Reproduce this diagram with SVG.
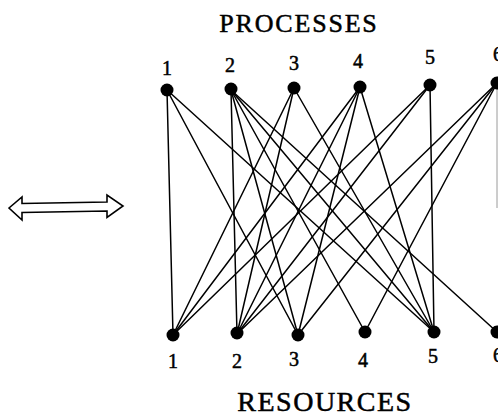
<svg xmlns="http://www.w3.org/2000/svg" width="498" height="419" viewBox="0 0 498 419">
<style>
  .bg { fill: #ffffff; }
  .dot { fill: #000000; }
  .edge { stroke: #000000; stroke-width: 1.5; fill: none; stroke-linecap: round; }
  .num { font-family: "Liberation Serif", "Times New Roman", serif; font-size: 20px; fill: #000000; stroke: #000000; stroke-width: 0.5; text-anchor: middle; }
  .title { font-family: "Liberation Serif", "Times New Roman", serif; fill: #000000; stroke: #000000; stroke-width: 0.5; text-anchor: middle; }
  .arrow { fill: #ffffff; stroke: #000000; stroke-width: 1.6; stroke-linejoin: miter; }
  .faint { stroke: #9a9a9a; stroke-width: 1; fill: none; }
</style>
<rect class="bg" x="0" y="0" width="498" height="419"/>

<g id="equivalence-arrow">
  <polygon class="arrow" points="9,208 22,197 22,203.5 107,202 107,195 123,206 107,217.5 107,211 22,212.5 22,220"/>
</g>

<text class="title" x="299" y="32" font-size="26" letter-spacing="1.8">PROCESSES</text>
<text class="title" x="325" y="411" font-size="28" letter-spacing="1.5">RESOURCES</text>

<g id="connectors">
  <!-- P1 -->
  <line class="edge" x1="167" y1="90" x2="173" y2="335"/>
  <line class="edge" x1="167" y1="90" x2="298" y2="335"/>
  <line class="edge" x1="167" y1="90" x2="434" y2="332"/>
  <!-- P2 -->
  <line class="edge" x1="231" y1="90" x2="237" y2="334"/>
  <line class="edge" x1="231" y1="90" x2="298" y2="335"/>
  <line class="edge" x1="231" y1="90" x2="365" y2="332"/>
  <line class="edge" x1="231" y1="90" x2="434" y2="332"/>
  <line class="edge" x1="231" y1="90" x2="497" y2="332"/>
  <!-- P3 -->
  <line class="edge" x1="294" y1="88" x2="173" y2="335"/>
  <line class="edge" x1="294" y1="88" x2="237" y2="334"/>
  <line class="edge" x1="294" y1="88" x2="434" y2="332"/>
  <!-- P4 -->
  <line class="edge" x1="360" y1="87" x2="173" y2="335"/>
  <line class="edge" x1="360" y1="87" x2="237" y2="334"/>
  <line class="edge" x1="360" y1="87" x2="298" y2="335"/>
  <line class="edge" x1="360" y1="87" x2="434" y2="332"/>
  <!-- P5 -->
  <line class="edge" x1="430" y1="85" x2="173" y2="335"/>
  <line class="edge" x1="430" y1="85" x2="237" y2="334"/>
  <line class="edge" x1="430" y1="85" x2="434" y2="332"/>
  <!-- P6 -->
  <line class="edge" x1="497" y1="83" x2="237" y2="334"/>
  <line class="edge" x1="497" y1="83" x2="298" y2="335"/>
  <line class="edge" x1="497" y1="83" x2="365" y2="332"/>
  <line class="faint" x1="497" y1="88" x2="497" y2="208"/>
</g>

<g id="process-1"><circle class="dot" cx="167" cy="90" r="6.5"/><text class="num" x="167" y="75">1</text></g>
<g id="process-2"><circle class="dot" cx="231" cy="89" r="6.5"/><text class="num" x="230" y="72">2</text></g>
<g id="process-3"><circle class="dot" cx="294" cy="88" r="6.5"/><text class="num" x="294" y="70">3</text></g>
<g id="process-4"><circle class="dot" cx="360" cy="87" r="6.5"/><text class="num" x="358" y="68">4</text></g>
<g id="process-5"><circle class="dot" cx="430" cy="85" r="6.5"/><text class="num" x="430" y="64">5</text></g>
<g id="process-6"><circle class="dot" cx="497" cy="83" r="6.5"/><text class="num" x="498" y="61">6</text></g>

<g id="resource-1"><circle class="dot" cx="173" cy="335" r="6.5"/><text class="num" x="173" y="368">1</text></g>
<g id="resource-2"><circle class="dot" cx="237" cy="333" r="6.5"/><text class="num" x="237" y="368">2</text></g>
<g id="resource-3"><circle class="dot" cx="298" cy="335" r="6.5"/><text class="num" x="294" y="366">3</text></g>
<g id="resource-4"><circle class="dot" cx="365" cy="332" r="6.5"/><text class="num" x="363" y="367">4</text></g>
<g id="resource-5"><circle class="dot" cx="434" cy="332" r="6.5"/><text class="num" x="433" y="363">5</text></g>
<g id="resource-6"><circle class="dot" cx="497" cy="332" r="6.5"/><text class="num" x="498" y="362">6</text></g>
</svg>
